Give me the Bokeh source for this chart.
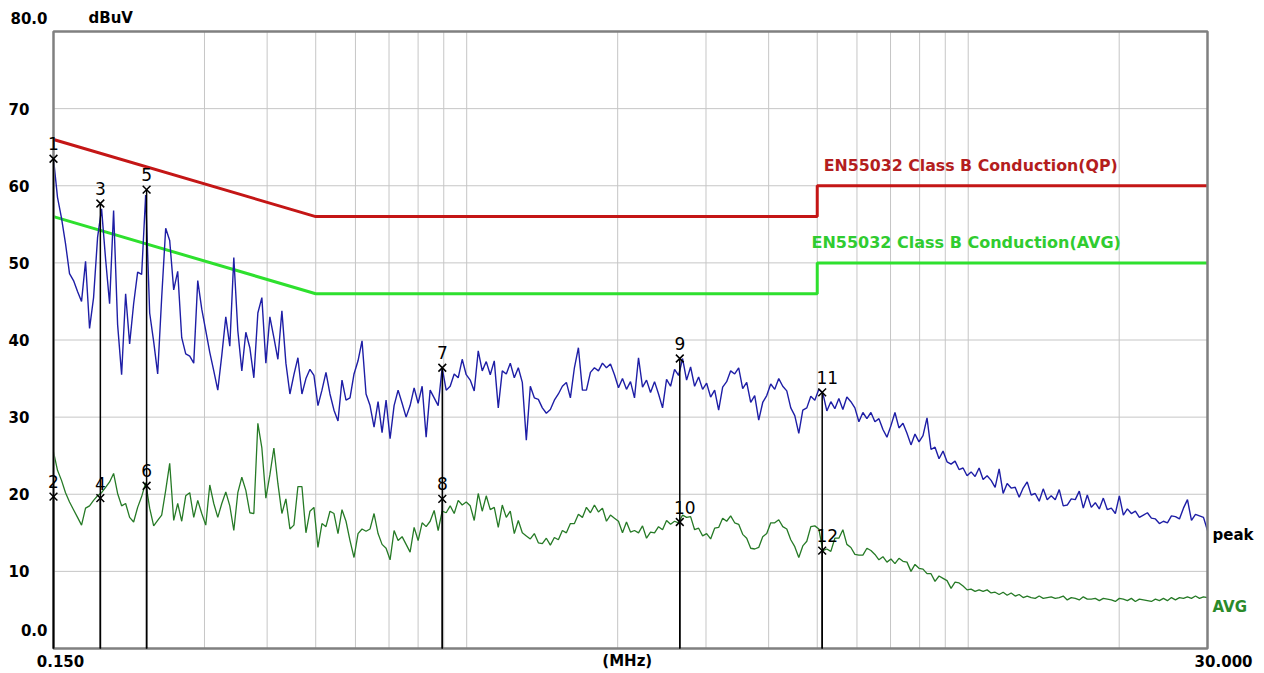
import numpy as np
from bokeh.plotting import figure
from bokeh.models import Range1d
from bokeh.core.properties import value
from bokeh.embed import file_html
from bokeh.resources import INLINE

# ---------------- data ----------------
f_start, f_stop = 0.150, 30.000          # MHz sweep limits
y_min, y_max = 0, 80                      # dBuV
y_ticks = [80, 70, 60, 50, 40, 30, 20, 10, 0]
y_tick_labels = ["80.0", "70", "60", "50", "40", "30", "20", "10", "0.0"]
x_grid = [0.3, 0.4, 0.5, 0.6, 0.7, 0.8, 0.9, 1, 2, 3, 4, 5, 6, 7, 8, 9, 10, 20]

# limit lines (EN55032 class B)
lim_freq = [0.15, 0.5, 5.0, 5.0, 30.0]
qp_limit = [66, 56, 56, 60, 60]
avg_limit = [56, 46, 46, 50, 50]

# peak detector trace (dBuV)
peak = [
    63.5, 58.5, 55.8, 52.5, 48.6, 47.7, 46.3, 45.0, 50.2, 41.5,
    45.5, 53.3, 57.0, 50.5, 44.7, 56.8, 42.0, 35.5, 46.0, 39.5,
    44.7, 48.8, 48.5, 58.8, 43.5, 39.8, 35.6, 45.5, 54.5, 52.9,
    46.5, 48.9, 40.3, 38.2, 37.9, 37.0, 47.7, 44.0, 41.2, 38.4,
    36.0, 33.5, 38.0, 43.0, 39.2, 50.7, 41.2, 36.0, 41.0, 39.0,
    35.1, 43.5, 45.5, 37.0, 43.0, 40.3, 37.5, 43.8, 37.0, 33.0,
    35.5, 37.7, 33.0, 35.0, 36.2, 35.4, 31.5, 33.5, 35.8, 33.0,
    30.9, 29.5, 34.8, 32.2, 32.5, 35.6, 37.3, 39.9, 33.0, 31.5,
    28.7, 32.0, 28.0, 32.2, 27.2, 31.5, 33.5, 31.8, 30.0, 31.5,
    33.8, 31.8, 34.0, 27.4, 33.5, 32.5, 31.5, 36.4, 33.5, 34.0,
    35.6, 35.1, 37.5, 35.5, 34.8, 33.4, 38.6, 36.0, 37.2, 35.5,
    37.3, 31.2, 36.0, 35.6, 37.0, 35.1, 36.4, 34.5, 27.0, 34.0,
    32.5, 32.3, 31.2, 30.5, 31.0, 32.2, 33.0, 34.0, 34.5, 32.5,
    36.4, 39.0, 33.5, 33.5, 35.8, 36.4, 36.0, 37.0, 36.4, 36.9,
    35.5, 33.8, 35.0, 33.6, 34.6, 32.5, 37.7, 33.9, 34.8, 33.2,
    34.6, 33.0, 31.2, 34.9, 34.0, 36.2, 35.4, 37.6, 34.8, 36.5,
    34.0, 35.2, 33.6, 34.4, 32.6, 33.5, 30.9, 33.9, 34.6, 36.0,
    35.6, 36.4, 33.7, 34.5, 31.9, 32.8, 29.6, 31.9, 32.8, 34.3,
    33.6, 35.0, 34.0, 33.4, 31.2, 30.2, 27.9, 30.9, 31.2, 32.7,
    32.2, 33.6, 33.1, 30.8, 32.0, 31.1, 32.4, 31.0, 32.6, 32.0,
    31.2, 29.4, 30.6, 29.8, 30.6, 29.4, 29.8, 28.4, 27.4, 28.9,
    30.6, 28.6, 29.2, 27.9, 26.4, 27.8, 26.8, 27.6, 29.9, 25.8,
    26.1, 24.6, 25.6, 24.2, 23.9, 24.3, 23.2, 23.4, 22.4, 22.9,
    22.3, 23.4, 21.9, 22.4, 21.8, 20.9, 23.3, 20.1, 21.4, 20.8,
    20.9, 19.6, 20.8, 21.6, 19.9, 20.1, 19.1, 20.7, 19.3, 19.8,
    19.3, 20.6, 18.5, 18.6, 19.4, 19.3, 20.4, 18.2, 19.9, 18.3,
    18.9, 18.1, 19.5, 18.0, 18.2, 17.5, 19.8, 17.3, 18.1, 17.5,
    17.8, 17.0, 17.3, 17.6, 16.9, 16.8, 16.2, 16.5, 16.3, 17.2,
    17.1, 16.8, 18.2, 19.3, 16.6, 17.4, 17.2, 17.0, 15.3,
]

# average detector trace (dBuV)
avg = [
    25.5, 23.1, 21.8, 20.2, 19.0, 18.0, 17.0, 16.0, 18.2, 18.5,
    19.2, 19.8, 20.2, 20.9, 21.6, 22.7, 20.1, 18.5, 18.8, 17.0,
    16.4, 18.3, 19.7, 21.5, 18.2, 15.9, 16.6, 17.3, 20.5, 24.0,
    16.6, 18.8, 16.5, 19.8, 20.2, 17.0, 19.2, 17.5, 16.0, 21.2,
    18.8, 17.0, 18.8, 20.3, 18.5, 15.3, 20.2, 22.2, 20.5, 17.6,
    17.5, 29.2, 26.0, 19.5, 22.5, 26.0, 21.4, 17.5, 19.4, 15.5,
    16.0, 21.0, 21.0, 15.0, 17.8, 18.3, 13.1, 16.2, 15.8, 17.8,
    17.5, 14.9, 18.0, 16.5, 14.0, 11.8, 14.9, 15.5, 15.2, 15.5,
    17.5, 14.9, 13.5, 13.0, 11.5, 15.3, 14.0, 14.5, 13.5, 12.5,
    15.7, 14.0, 16.3, 15.8, 16.5, 17.9, 15.3, 17.8, 17.6, 18.5,
    17.5, 19.2, 18.6, 19.0, 18.5, 16.6, 20.1, 17.8, 19.8, 18.0,
    18.3, 15.7, 18.6, 17.0, 17.8, 14.9, 16.6, 15.0, 14.6, 14.2,
    14.9, 13.7, 13.6, 14.3, 13.4, 14.4, 14.1, 15.3, 15.0, 16.2,
    16.2, 17.4, 17.0, 18.3, 17.6, 18.6, 17.7, 18.2, 16.5, 17.3,
    16.9, 16.5, 15.0, 16.4, 15.1, 15.3, 15.0, 15.9, 14.3, 15.1,
    15.0, 15.8, 15.4, 16.6, 16.1, 16.5, 16.3, 17.3, 17.0, 17.1,
    15.4, 15.6, 14.6, 14.9, 14.2, 15.6, 15.7, 16.9, 16.5, 17.2,
    16.3, 16.1, 14.8, 14.3, 13.0, 12.9, 13.1, 14.5, 14.9, 16.3,
    16.3, 16.7, 15.8, 15.5, 14.1, 13.2, 11.8, 13.3, 13.9, 15.8,
    15.9, 15.5, 12.7, 12.9, 12.6, 14.3, 14.3, 15.4, 13.5, 13.1,
    12.2, 12.1, 12.1, 13.0, 12.7, 12.2, 11.5, 11.9, 11.2, 11.6,
    11.0, 11.7, 11.3, 11.2, 10.0, 10.9, 10.4, 10.3, 9.7, 9.7,
    8.7, 9.4, 9.1, 8.8, 7.8, 8.6, 8.5, 8.1, 7.6, 7.7,
    7.4, 7.6, 7.4, 7.6, 7.2, 7.3, 7.0, 7.3, 6.9, 7.2,
    6.8, 7.0, 6.6, 6.8, 6.6, 6.5, 6.8, 6.5, 6.6, 6.7,
    6.5, 6.6, 6.8, 6.3, 6.6, 6.5, 6.3, 6.7, 6.4, 6.4,
    6.5, 6.2, 6.5, 6.4, 6.3, 6.1, 6.5, 6.4, 6.2, 6.5,
    6.1, 6.4, 6.3, 6.2, 6.1, 6.4, 6.2, 6.5, 6.2, 6.6,
    6.3, 6.6, 6.5, 6.7, 6.5, 6.8, 6.5, 6.7, 6.6,
]

# marker table
mk_label = ["1", "2", "3", "4", "5", "6", "7", "8", "9", "10", "11", "12"]
mk_freq = [0.150, 0.150, 0.186, 0.186, 0.230, 0.230, 0.894, 0.894, 2.660, 2.660, 5.115, 5.115]
mk_level = [63.5, 19.7, 57.7, 19.5, 59.5, 21.1, 36.4, 19.4, 37.6, 16.4, 33.2, 12.7]

# receiver sweep points are log-spaced between start and stop
peak_f = np.geomspace(f_start, f_stop, len(peak))
avg_f = np.geomspace(f_start, f_stop, len(avg))

# ---------------- layout (pixels) ----------------
W, H = 1264, 673
L, R, T, B = 53, 1207, 31, 648      # plot box inside the canvas
ratio = f_stop / f_start
x_lo = f_start * ratio ** (-L / (R - L))
x_hi = f_start * ratio ** ((W - L) / (R - L))
dy = (y_max - y_min) / (B - T)
y_lo = y_min - (H - B) * dy
y_hi = y_max + T * dy

FONT = "DejaVu Sans"

p = figure(width=W, height=H, x_axis_type="log",
           x_range=Range1d(x_lo, x_hi), y_range=Range1d(y_lo, y_hi),
           x_axis_location=None, y_axis_location=None,
           output_backend="svg", toolbar_location=None,
           min_border=0)
p.xgrid.visible = False
p.ygrid.visible = False
p.background_fill_color = "white"
p.border_fill_color = "white"
p.outline_line_color = None

# grid
p.segment(x0=x_grid, y0=[y_min] * len(x_grid), x1=x_grid, y1=[y_max] * len(x_grid),
          line_color="#c6c6c6", line_width=1)
hg = y_ticks[1:-1]
p.segment(x0=[f_start] * len(hg), y0=hg, x1=[f_stop] * len(hg), y1=hg,
          line_color="#c6c6c6", line_width=1)

# limit lines
p.line(lim_freq, qp_limit, line_color="#c41616", line_width=3)
p.line(lim_freq, avg_limit, line_color="#2ee02e", line_width=3)

# traces
p.line(avg_f, avg, line_color="#267a26", line_width=1.3)
p.line(peak_f, peak, line_color="#1e1ea6", line_width=1.4)

# plot box
p.quad(left=[f_start], right=[f_stop], bottom=[y_min], top=[y_max],
       fill_color=None, line_color="#808080", line_width=2.5)

# markers
p.segment(x0=mk_freq, y0=[y_min] * len(mk_freq), x1=mk_freq, y1=mk_level,
          line_color="black", line_width=1.5)
p.scatter(mk_freq, mk_level, marker="x", size=11, line_color="black", line_width=1.5)
mk_dx = [5 if len(t) > 1 else 0 for t in mk_label]
p.text(x=mk_freq, y=mk_level, text=mk_label, x_offset=mk_dx, y_offset=-15,
       text_align="center", text_baseline="middle",
       text_font=value(FONT), text_font_size="17px", text_color="black")


def lab(x, y, text, xo, yo, align, color="black", size="15px", style="bold"):
    p.text(x=[x], y=[y], text=[text], x_offset=xo, y_offset=yo,
           text_align=align, text_baseline="middle",
           text_font=value(FONT), text_font_size=size,
           text_font_style=style, text_color=color)


# y tick labels
for v, t in zip(y_ticks, y_tick_labels):
    if "." in t:
        yo = -14 if v == y_max else -19
        lab(f_start, v, t, -6, yo, "right")
    else:
        lab(f_start, v, t, -45, 0, "left")
lab(f_start, y_max, "dBuV", 35, -14, "left")

# x labels
lab(f_start, y_min, "0.150", 7, 12, "center")
lab(f_stop, y_min, "30.000", 45, 12, "right")
lab(2.09, y_min, "(MHz)", 0, 12, "center")

# trace names
lab(f_stop, 14.7, "peak", 5, 0, "left")
lab(f_stop, 5.4, "AVG", 5, 0, "left", color="#2a8a2a")

# limit names
lab(5.15, 62.6, "EN55032 Class B Conduction(QP)", 0, 0, "left", color="#b41e1e", size="15.8px")
lab(4.87, 52.6, "EN55032 Class B Conduction(AVG)", 0, 0, "left", color="#30cc30", size="16px")

open("out.html", "w").write(file_html(p, INLINE))
